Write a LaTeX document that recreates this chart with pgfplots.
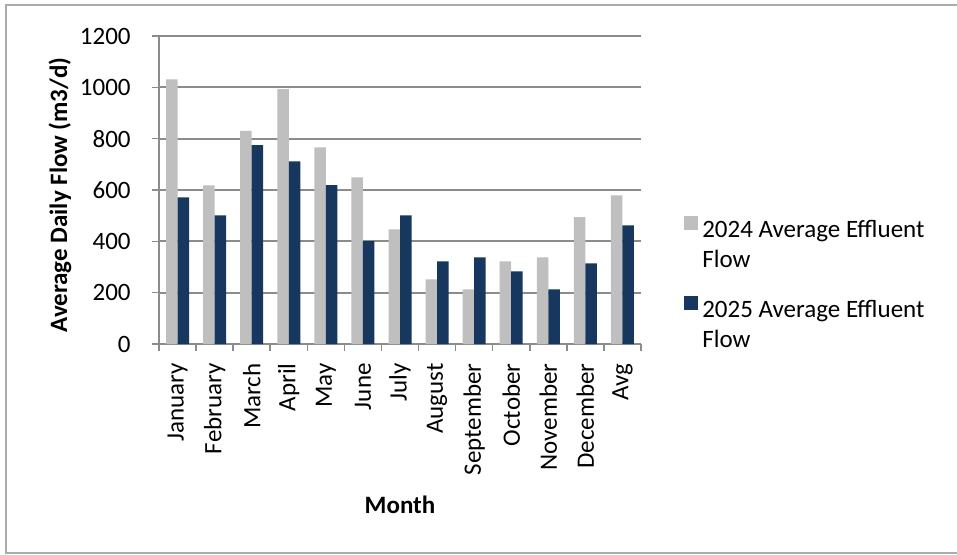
\documentclass[border=0pt]{standalone}
\usepackage{fontspec}
\setmainfont{Carlito}
\usepackage{pgfplots}
\pgfplotsset{compat=1.18}
\usepackage{pgfplotstable}
\definecolor{bar24}{RGB}{191,191,191}
\definecolor{bar25}{RGB}{23,55,94}
\definecolor{gridgray}{RGB}{140,140,140}
\definecolor{framegray}{RGB}{170,170,170}

% month index, 2024 flow, 2025 flow
\pgfplotstableread{
idx  f2024 f2025
0    1031  571
1    618   501
2    830   775
3    993   712
4    766   619
5    649   401
6    447   501
7    252   322
8    213   338
9    322   283
10   338   213
11   494   314
12   579   462
}\flowdata

\begin{document}
\begin{tikzpicture}
\useasboundingbox (-79.5pt,-105pt) rectangle (399pt,172pt);
\draw[framegray, line width=0.75pt] (400pt,169.5pt) -- (-76.5pt,169.5pt) -- (-76.5pt,-104.5pt) -- (400pt,-104.5pt);
\begin{axis}[
    font=\fontsize{12.5}{15}\selectfont,
    scale only axis,
    width=241pt, height=154pt,
    ybar=0pt, bar width=5.75pt,
    xmin=-0.5, xmax=12.5,
    ymin=0, ymax=1200,
    xtick={0,...,12},
    xticklabels={January,February,March,April,May,June,July,August,September,October,November,December,Avg},
    ytick={0,200,...,1200},
    minor xtick={-0.5,0.5,...,12.5},
    minor ytick={0,200,...,1200},
    major tick length=0pt,
    minor tick length=3.5pt,
    tick align=outside,
    tick style={gridgray, line width=0.75pt},
    axis lines*=left,
    axis line style={gridgray, line width=0.75pt},
    ymajorgrids,
    major grid style={gridgray, line width=1pt},
    /pgf/number format/assume math mode=true,
    /pgf/number format/1000 sep={},
    xticklabel style={rotate=90, anchor=east, inner xsep=9.5pt},
    yticklabel style={anchor=east, inner xsep=14pt},
    xlabel={\textbf{Month}},
    ylabel={\textbf{Average Daily Flow (m3/d)}},
    xlabel style={at={(axis description cs:0.5,0)}, anchor=center, yshift=-80.5pt},
    ylabel style={at={(axis description cs:-0.2054,0.484)}, anchor=center},
    legend style={draw=none, fill=none, at={(axis description cs:1.089,0.418)}, anchor=north west,
        inner sep=0pt, row sep=25.5pt, legend cell align=left},
    legend image code/.code={\fill[#1] (0pt,0.5pt) rectangle (7pt,7.5pt);},
]
\addplot[fill=bar24, draw=none] table[x=idx, y=f2024] {\flowdata};
\addplot[fill=bar25, draw=none] table[x=idx, y=f2025] {\flowdata};
\addlegendentry{\parbox[t]{120pt}{2024 Average Effluent\\Flow}}
\addlegendentry{\parbox[t]{120pt}{2025 Average Effluent\\Flow}}
\end{axis}
\end{tikzpicture}
\end{document}
